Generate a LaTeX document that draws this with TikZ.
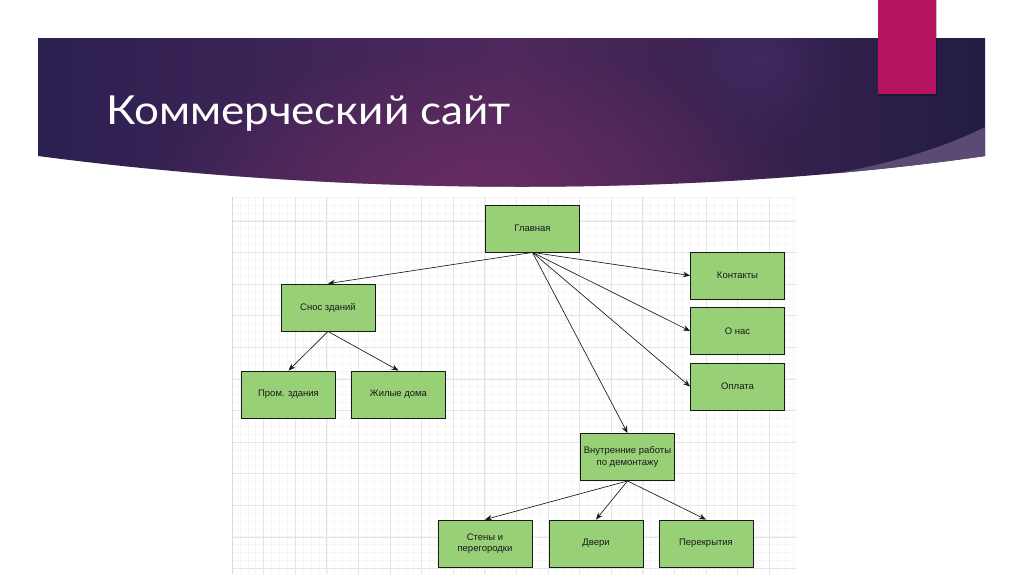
\documentclass[tikz,border=0pt]{standalone}
\usepackage{fontspec}
\setmainfont{Liberation Sans}
\newfontfamily\titlefont[FakeStretch=1.1]{Lato}
\usetikzlibrary{arrows.meta,fadings}
\definecolor{boxgreen}{HTML}{97D077}
\definecolor{bandleft}{HTML}{2B2050}
\definecolor{bandmid}{HTML}{4E285C}
\definecolor{bandright}{HTML}{221C44}
\definecolor{glowmag}{HTML}{6E2E64}
\definecolor{glowviolet}{HTML}{45306C}
\definecolor{wedge}{HTML}{5B4B74}
\definecolor{pinkbar}{HTML}{B5135F}
\definecolor{gridmajor}{HTML}{E4E4E4}
\definecolor{gridminor}{HTML}{F5F5F5}
\tikzfading[name=softglow, inner color=transparent!0, outer color=transparent!100]
\tikzset{
  page/.style={x=1pt,y=-1pt},
  pagebox/.style={draw=black!90, line width=0.9pt, fill=boxgreen, minimum width=94pt, minimum height=47pt, inner sep=1pt, align=center, font=\fontsize{9.5}{11.5}\selectfont, text=black!90},
  link/.style={draw=black!90, line width=0.65pt, -{Stealth[length=7pt,width=5.5pt]}},
}
\begin{document}
\begin{tikzpicture}[page]
\useasboundingbox (0,0) rectangle (1024,574);
\fill[white] (0,0) rectangle (1024,574);
% grid area
\begin{scope}
\clip (232,197) rectangle (796,574);
\foreach \i in {0,...,72} {
  \draw[gridminor, line width=0.5pt] ({232+7.9*\i},197) -- ({232+7.9*\i},574);
}
\foreach \i in {0,...,48} {
  \draw[gridminor, line width=0.5pt] (232,{197+7.9*\i}) -- (796,{197+7.9*\i});
}
\foreach \i in {0,...,18} {
  \draw[gridmajor, line width=0.7pt] ({232+31.6*\i},197) -- ({232+31.6*\i},574);
}
\foreach \i in {0,...,12} {
  \draw[gridmajor, line width=0.7pt] (232,{221+31.6*\i}) -- (796,{221+31.6*\i});
}
\end{scope}
\draw[black!15, line width=1pt] (232.5,197) -- (232.5,574);
% header band
\begin{scope}
\clip (38,38) -- (985,38) -- (985,156) .. controls (700,197) and (350,197) .. (38,156) -- cycle;
\shade[left color=bandleft, right color=bandright, middle color=bandmid] (38,38) rectangle (985,200);
\fill[glowmag, path fading=softglow, fill opacity=0.85] (470,195) ellipse [x radius=330, y radius=150];
\fill[glowviolet, path fading=softglow, fill opacity=0.55] (760,60) ellipse [x radius=80, y radius=90];
\fill[wedge] (700,190) .. controls (820,182) and (920,160) .. (985,127) -- (985,200) -- cycle;
\end{scope}
% pink bar
\fill[black, opacity=0.25] (878,0) rectangle (937,96);
\fill[pinkbar] (878,0) rectangle (936,94);
% title
\node[anchor=base west, text=white, inner sep=0pt, font=\titlefont\fontsize{40}{44}\selectfont] (title) at (106,124) {Коммерческий сайт};
% nodes
\node[pagebox] (glav) at (532.5,228.5) {Главная};
\node[pagebox] (snos) at (328,307.5) {Снос зданий};
\node[pagebox] (prom) at (288.5,394.5) {Пром. здания};
\node[pagebox] (zhil) at (398.5,394.5) {Жилые дома};
\node[pagebox] (kont) at (737.5,275.5) {Контакты};
\node[pagebox] (onas) at (737.5,331) {О нас};
\node[pagebox] (opl) at (737.5,386.5) {Оплата};
\node[pagebox] (vnut) at (627.5,457) {Внутренние работы\\по демонтажу};
\node[pagebox] (sten) at (485,543.5) {Стены и\\перегородки};
\node[pagebox] (dver) at (596,543.5) {Двери};
\node[pagebox] (perek) at (706,543.5) {Перекрытия};
% links
\draw[link] (glav.south) -- (snos.north);
\draw[link] (glav.south) -- (kont.west);
\draw[link] (glav.south) -- (onas.west);
\draw[link] (glav.south) -- (opl.west);
\draw[link] (glav.south) -- (vnut.north);
\draw[link] (snos.south) -- (prom.north);
\draw[link] (snos.south) -- (zhil.north);
\draw[link] (vnut.south) -- (sten.north);
\draw[link] (vnut.south) -- (dver.north);
\draw[link] (vnut.south) -- (perek.north);
\end{tikzpicture}
\end{document}
